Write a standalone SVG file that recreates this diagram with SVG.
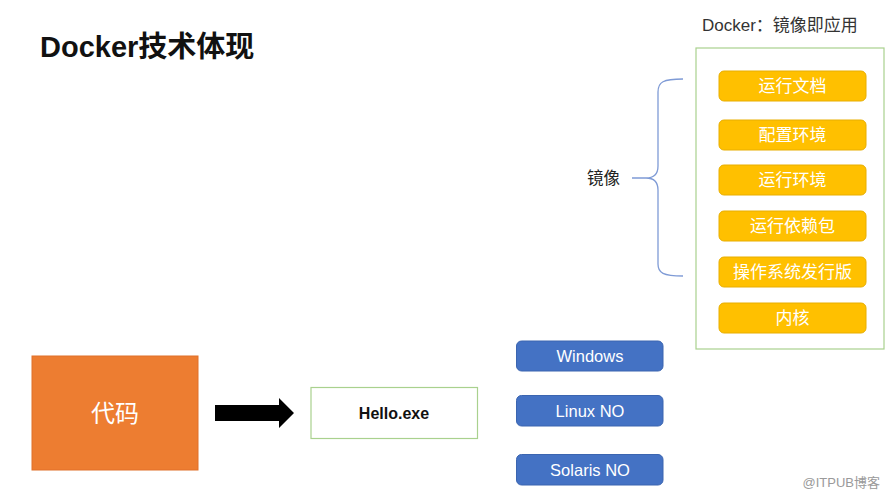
<svg xmlns="http://www.w3.org/2000/svg" width="890" height="496" viewBox="0 0 890 496">
<style>
.cjk{font-family:"Liberation Sans","Noto Sans CJK SC",sans-serif;}
.ybox{fill:#FFC000;stroke:#E8AE00;stroke-width:1;}
.ytxt{fill:#FFFFFF;font-size:17px;text-anchor:middle;}
.bbox{fill:#4472C4;stroke:#3B65B0;stroke-width:1;}
.btxt{fill:#FFFFFF;font-size:16.5px;text-anchor:middle;}
</style>
<rect width="890" height="496" fill="#FFFFFF"/>
<text class="cjk" x="40" y="57" font-size="29" font-weight="bold" fill="#111111">Docker技术体现</text>
<text class="cjk" x="702" y="31" font-size="17" fill="#333333">Docker：镜像即应用</text>
<g id="image-container">
<rect x="696" y="48" width="188" height="301" fill="#FFFFFF" stroke="#A9D18E" stroke-width="1.2"/>
</g>
<g id="n1"><rect class="ybox" x="719" y="71" width="147" height="30" rx="5"/><text class="cjk ytxt" x="792.5" y="92">运行文档</text></g>
<g id="n2"><rect class="ybox" x="719" y="120" width="147" height="30" rx="5"/><text class="cjk ytxt" x="792.5" y="141">配置环境</text></g>
<g id="n3"><rect class="ybox" x="719" y="165" width="147" height="30" rx="5"/><text class="cjk ytxt" x="792.5" y="186">运行环境</text></g>
<g id="n4"><rect class="ybox" x="719" y="211" width="147" height="30" rx="5"/><text class="cjk ytxt" x="792.5" y="232">运行依赖包</text></g>
<g id="n5"><rect class="ybox" x="719" y="257" width="147" height="30" rx="5"/><text class="cjk ytxt" x="792.5" y="278">操作系统发行版</text></g>
<g id="n6"><rect class="ybox" x="719" y="303" width="147" height="30" rx="5"/><text class="cjk ytxt" x="792.5" y="324">内核</text></g>
<g id="image-label"><text class="cjk" x="587" y="184" font-size="16.5" fill="#222222">镜像</text></g>
<g id="code"><rect x="32" y="356" width="166" height="114" fill="#ED7D31" stroke="#E0702A" stroke-width="1"/><text class="cjk" x="115" y="422" font-size="24" fill="#FFFFFF" text-anchor="middle">代码</text></g>
<g id="hello"><rect x="311" y="387.5" width="166.5" height="51" fill="#FFFFFF" stroke="#A9D18E" stroke-width="1.2"/><text class="cjk" x="394" y="419" font-size="16" font-weight="bold" fill="#111111" text-anchor="middle">Hello.exe</text></g>
<g id="windows"><rect class="bbox" x="516.5" y="341" width="146.5" height="30" rx="5"/><text class="cjk btxt" x="590" y="362">Windows</text></g>
<g id="linux"><rect class="bbox" x="516.5" y="395.5" width="146.5" height="30.5" rx="5"/><text class="cjk btxt" x="590" y="417">Linux NO</text></g>
<g id="solaris"><rect class="bbox" x="516.5" y="454.5" width="146.5" height="30.5" rx="5"/><text class="cjk btxt" x="590" y="476">Solaris NO</text></g>
<g id="connectors">
<path d="M683,79 C663,79 658,82 658,92 L658,166 C658,174 654,178 646,178 L632,178 M646,178 C654,178 658,182 658,190 L658,264 C658,273 663,276 683,276" fill="none" stroke="#7F9BD6" stroke-width="1.3"/>
<polygon points="215,405 279,405 279,398 294,413 279,428 279,421 215,421" fill="#000000"/>
</g>
<text class="cjk" x="880" y="487" font-size="13" fill="#9A9A9A" text-anchor="end">@ITPUB博客</text>
</svg>
